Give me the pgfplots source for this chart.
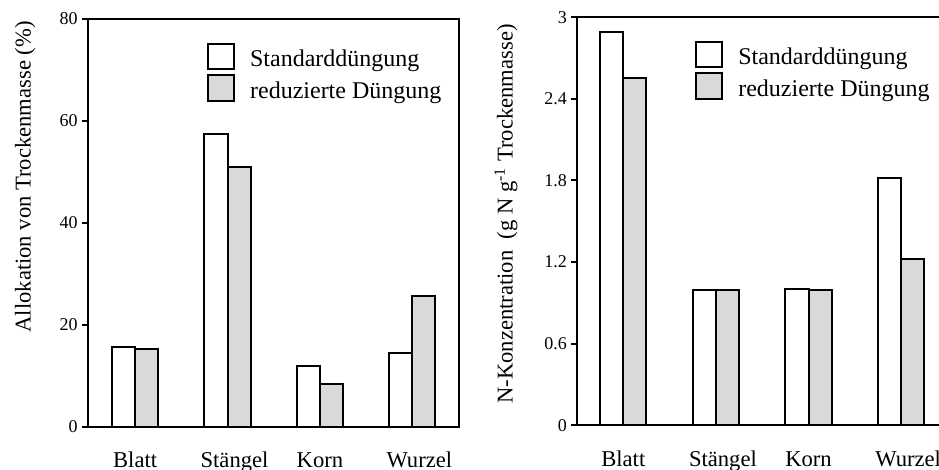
\documentclass[border=0pt]{standalone}
\usepackage{fontspec}
\setmainfont{Liberation Serif}
\usepackage{pgfplots}
\pgfplotsset{compat=1.18}
\usepackage{pgfplotstable}
\definecolor{barfill}{gray}{0.85}

\pgfplotstableread{
x std red
1 15.7 15.2
2 57.5 51.0
3 12.0 8.4
4 14.6 25.7
}\tabA

\pgfplotstableread{
x std red
1 2.89 2.555
2 0.997 0.997
3 1.005 0.995
4 1.818 1.226
}\tabB

\pgfplotsset{
 /pgfplots/ybar legend/.style={/pgfplots/legend image code/.code={\draw[##1, line width=1pt] (0pt,-4.6pt) rectangle (13pt,8.1pt); \path[draw=none, fill=none] (13pt,0pt) -- (19pt,0pt);}},
 panel/.style={
  scale only axis, width=185.5pt, height=204pt,
  axis line style={line width=1pt},
  ymin=0,
  xtick={1,2,3,4},
  xticklabels={Blatt,\hspace*{7pt}Stängel,Korn,\hspace*{7pt}Wurzel},
  x tick label style={font=\fontsize{11.3}{13}\selectfont, anchor=base, yshift=-17.5pt},
  major x tick style={draw=none},
  xtick pos=bottom, ytick pos=left, tick align=outside,
  major tick length=3pt,
  y tick style={line width=1pt, black},
  y tick label style={font=\fontsize{9}{10}\selectfont, inner sep=2pt},
  /pgf/number format/assume math mode=true,
  ylabel style={font=\fontsize{11.3}{13}\selectfont, anchor=base},
  legend style={draw=none, fill=none, inner sep=0pt, font=\fontsize{12}{14}\selectfont, cells={anchor=west}, row sep=0.3pt},
  legend cell align=left,
  ybar, bar width=0.25,
 }
}

\begin{document}
\begin{tikzpicture}
\begin{axis}[panel, at={(44pt,21.5pt)}, anchor=south west,
  xmin=0.49, xmax=4.505, ymax=80, ytick={0,20,40,60,80},
  ylabel={Allokation von Trockenmasse (\%)},
  ylabel style={at={(axis description cs:-0.1547,0.613)}},
  legend style={at={(axis description cs:0.32,0.943)}, anchor=north west}]
\addplot[draw=black, fill=white, line width=1pt, bar shift=-0.125] table[x=x,y=std]{\tabA};
\addplot[draw=black, fill=barfill, line width=1pt, bar shift=0.125] table[x=x,y=red]{\tabA};
\legend{Standarddüngung, reduzierte Düngung}
\end{axis}
\begin{axis}[panel, at={(288.65pt,22.35pt)}, anchor=south west,
  xmin=0.503, xmax=4.509, ymax=3, ytick={0,0.6,1.2,1.8,2.4,3},
  yticklabels={0,0.6,1.2,1.8,2.4,3},
  ylabel={N-Konzentration\ \ (g N g\textsuperscript{-1} Trockenmasse)},
  ylabel style={at={(axis description cs:-0.1741,0.518)}},
  legend style={at={(axis description cs:0.317,0.944)}, anchor=north west}]
\addplot[draw=black, fill=white, line width=1pt, bar shift=-0.125] table[x=x,y=std]{\tabB};
\addplot[draw=black, fill=barfill, line width=1pt, bar shift=0.125] table[x=x,y=red]{\tabB};
\legend{Standarddüngung, reduzierte Düngung}
\end{axis}
\pgfresetboundingbox
\useasboundingbox (0,0) rectangle (469.5pt,235pt);
\end{tikzpicture}
\end{document}
